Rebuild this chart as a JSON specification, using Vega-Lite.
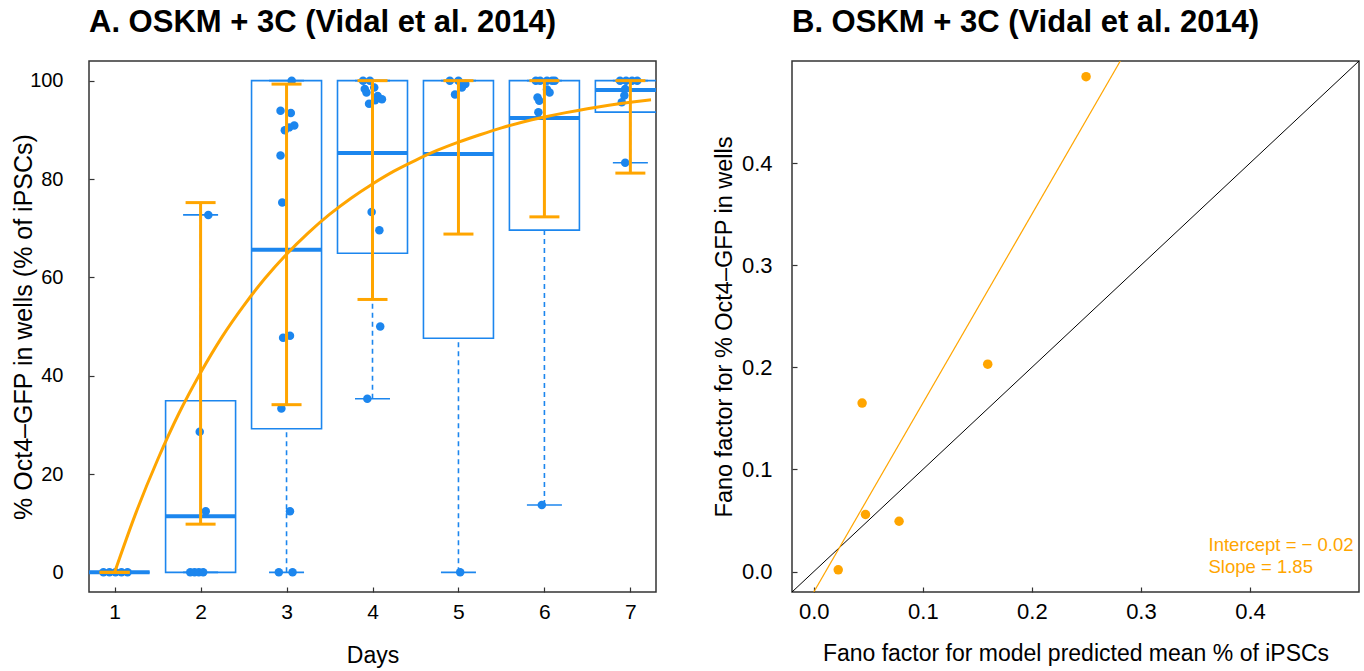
{
  "$schema": "https://vega.github.io/schema/vega-lite/v6.json",
  "padding": {"left": 10, "top": 6, "right": 0, "bottom": 0},
  "background": "white",
  "config": {
    "font": "Liberation Sans",
    "view": {"stroke": "#333333", "strokeWidth": 1.5},
    "axis": {"grid": false, "domain": false, "tickColor": "#333333", "tickSize": -5, "tickWidth": 1.2, "labelColor": "black", "titleColor": "black", "titleFontWeight": "normal", "labelFont": "Liberation Sans", "titleFont": "Liberation Sans"},
    "title": {"font": "Liberation Sans", "fontWeight": "bold", "fontSize": 31, "anchor": "start", "frame": "group", "color": "black"}
  },
  "datasets": {
    "boxes": [
      {"day": 1, "q1": 0, "med": 0, "q3": 0, "lo": 0, "hi": 0},
      {"day": 2, "q1": 0, "med": 11.4, "q3": 34.9, "lo": 0, "hi": 72.7},
      {"day": 3, "q1": 29.2, "med": 65.6, "q3": 100, "lo": 0, "hi": 100},
      {"day": 4, "q1": 64.9, "med": 85.3, "q3": 100, "lo": 35.3, "hi": 100},
      {"day": 5, "q1": 47.6, "med": 85.1, "q3": 100, "lo": 0, "hi": 100},
      {"day": 6, "q1": 69.6, "med": 92.4, "q3": 100, "lo": 13.7, "hi": 100},
      {"day": 7, "q1": 93.6, "med": 98.1, "q3": 100, "lo": 83.3, "hi": 100}
    ],
    "errs": [
      {"day": 1, "elo": 0, "ehi": 0},
      {"day": 2, "elo": 9.8, "ehi": 75.2},
      {"day": 3, "elo": 34.1, "ehi": 99.3},
      {"day": 4, "elo": 55.5, "ehi": 100},
      {"day": 5, "elo": 68.8, "ehi": 100},
      {"day": 6, "elo": 72.3, "ehi": 100},
      {"day": 7, "elo": 81.2, "ehi": 100}
    ],
    "wells": [
      {"xj": 0.87, "pct": 0}, {"xj": 0.94, "pct": 0}, {"xj": 1.01, "pct": 0}, {"xj": 1.08, "pct": 0}, {"xj": 1.15, "pct": 0},
      {"xj": 2.09, "pct": 72.7}, {"xj": 1.99, "pct": 28.6}, {"xj": 2.06, "pct": 12.4}, {"xj": 1.88, "pct": 0}, {"xj": 1.93, "pct": 0}, {"xj": 1.98, "pct": 0}, {"xj": 2.03, "pct": 0},
      {"xj": 3.06, "pct": 100}, {"xj": 2.93, "pct": 93.9}, {"xj": 3.05, "pct": 93.4}, {"xj": 3.09, "pct": 90.9}, {"xj": 3.03, "pct": 90.5}, {"xj": 2.98, "pct": 89.9}, {"xj": 2.93, "pct": 84.8}, {"xj": 2.95, "pct": 75.2}, {"xj": 3.04, "pct": 48.1}, {"xj": 2.96, "pct": 47.7}, {"xj": 2.94, "pct": 33.3}, {"xj": 3.04, "pct": 12.4}, {"xj": 2.91, "pct": 0}, {"xj": 3.07, "pct": 0},
      {"xj": 3.89, "pct": 100}, {"xj": 3.97, "pct": 100}, {"xj": 3.91, "pct": 98.3}, {"xj": 4.02, "pct": 98.6}, {"xj": 3.93, "pct": 97.6}, {"xj": 4.06, "pct": 96.9}, {"xj": 4.11, "pct": 96.2}, {"xj": 4.03, "pct": 96.0}, {"xj": 3.96, "pct": 95.3}, {"xj": 3.99, "pct": 73.3}, {"xj": 4.08, "pct": 69.6}, {"xj": 4.09, "pct": 50.0}, {"xj": 3.94, "pct": 35.3},
      {"xj": 4.90, "pct": 100}, {"xj": 5.00, "pct": 100}, {"xj": 5.08, "pct": 99.3}, {"xj": 5.04, "pct": 98.6}, {"xj": 4.96, "pct": 97.2}, {"xj": 5.02, "pct": 0},
      {"xj": 5.90, "pct": 100}, {"xj": 5.95, "pct": 100}, {"xj": 6.03, "pct": 100}, {"xj": 6.09, "pct": 100}, {"xj": 6.12, "pct": 100}, {"xj": 6.03, "pct": 98.2}, {"xj": 6.06, "pct": 97.6}, {"xj": 5.92, "pct": 96.6}, {"xj": 5.94, "pct": 95.9}, {"xj": 5.93, "pct": 93.6}, {"xj": 5.97, "pct": 13.7},
      {"xj": 6.88, "pct": 100}, {"xj": 6.95, "pct": 100}, {"xj": 7.02, "pct": 100}, {"xj": 7.08, "pct": 100}, {"xj": 6.94, "pct": 98.3}, {"xj": 6.93, "pct": 97.0}, {"xj": 6.90, "pct": 95.6}, {"xj": 6.94, "pct": 83.3}
    ],
    "fit": [
      {"t": 1.0, "v": 0}, {"t": 1.25, "v": 12.2}, {"t": 1.5, "v": 22.9}, {"t": 1.75, "v": 32.4}, {"t": 2.0, "v": 40.6}, {"t": 2.25, "v": 47.9}, {"t": 2.5, "v": 54.2}, {"t": 2.75, "v": 59.8}, {"t": 3.0, "v": 64.7}, {"t": 3.25, "v": 69.0}, {"t": 3.5, "v": 72.8}, {"t": 3.75, "v": 76.1}, {"t": 4.0, "v": 79.0}, {"t": 4.25, "v": 81.6}, {"t": 4.5, "v": 83.8}, {"t": 4.75, "v": 85.8}, {"t": 5.0, "v": 87.5}, {"t": 5.25, "v": 89.0}, {"t": 5.5, "v": 90.4}, {"t": 5.75, "v": 91.6}, {"t": 6.0, "v": 92.6}, {"t": 6.25, "v": 93.5}, {"t": 6.5, "v": 94.3}, {"t": 6.75, "v": 95.0}, {"t": 7.0, "v": 95.6}, {"t": 7.24, "v": 96.1}
    ],
    "fano": [
      {"model": 0.0224, "obs": 0.0017},
      {"model": 0.0443, "obs": 0.165},
      {"model": 0.0474, "obs": 0.0559},
      {"model": 0.0782, "obs": 0.0493},
      {"model": 0.1595, "obs": 0.2031},
      {"model": 0.2497, "obs": 0.4846}
    ],
    "lines": [
      {"kind": "identity", "xa": -0.02, "ya": -0.02, "xb": 0.5, "yb": 0.5},
      {"kind": "fit", "xa": 0.0, "ya": -0.02, "xb": 0.2811, "yb": 0.5}
    ],
    "notes": [
      {"label": "Intercept = − 0.02", "nx": 0.362, "ny": 0.026},
      {"label": "Slope = 1.85", "nx": 0.362, "ny": 0.004}
    ]
  },
  "hconcat": [
    {
      "title": {"text": "A. OSKM + 3C (Vidal et al. 2014)", "offset": 22},
      "width": 567,
      "height": 531,
      "layer": [
        {
          "data": {"name": "boxes"},
          "mark": {"type": "bar", "size": 70, "fillOpacity": 0, "fill": "white", "stroke": "#1C86EE", "strokeWidth": 1.6, "clip": true},
          "encoding": {
            "x": {"field": "day", "type": "quantitative", "scale": {"domain": [0.76, 7.24], "nice": false, "zero": false},
              "axis": {"values": [1, 2, 3, 4, 5, 6, 7], "format": "d", "title": "Days", "labelFontSize": 21, "titleFontSize": 23, "labelPadding": 14, "titlePadding": 22}},
            "y": {"field": "q1", "type": "quantitative", "scale": {"domain": [-4, 104], "nice": false, "zero": false},
              "axis": {"values": [0, 20, 40, 60, 80, 100], "format": "d", "title": "% Oct4–GFP in wells (% of iPSCs)", "labelFontSize": 20, "titleFontSize": 25, "labelPadding": 31, "titlePadding": -7}},
            "y2": {"field": "q3"}
          }
        },
        {
          "data": {"name": "boxes"},
          "mark": {"type": "rule", "stroke": "#1C86EE", "strokeWidth": 1.6, "strokeDash": [5, 4]},
          "encoding": {"x": {"field": "day", "type": "quantitative"}, "y": {"field": "lo", "type": "quantitative"}, "y2": {"field": "q1"}}
        },
        {
          "data": {"name": "boxes"},
          "mark": {"type": "rule", "stroke": "#1C86EE", "strokeWidth": 1.6, "strokeDash": [5, 4]},
          "encoding": {"x": {"field": "day", "type": "quantitative"}, "y": {"field": "q3", "type": "quantitative"}, "y2": {"field": "hi"}}
        },
        {
          "data": {"name": "boxes"},
          "mark": {"type": "tick", "orient": "horizontal", "size": 35, "thickness": 1.6, "color": "#1C86EE", "opacity": 1, "clip": true},
          "encoding": {"x": {"field": "day", "type": "quantitative"}, "y": {"field": "lo", "type": "quantitative"}}
        },
        {
          "data": {"name": "boxes"},
          "mark": {"type": "tick", "orient": "horizontal", "size": 35, "thickness": 1.6, "color": "#1C86EE", "opacity": 1, "clip": true},
          "encoding": {"x": {"field": "day", "type": "quantitative"}, "y": {"field": "hi", "type": "quantitative"}}
        },
        {
          "data": {"name": "boxes"},
          "mark": {"type": "tick", "orient": "horizontal", "size": 70, "thickness": 4, "color": "#1C86EE", "opacity": 1, "clip": true},
          "encoding": {"x": {"field": "day", "type": "quantitative"}, "y": {"field": "med", "type": "quantitative"}}
        },
        {
          "data": {"name": "wells"},
          "mark": {"type": "circle", "size": 72, "color": "#1C86EE", "opacity": 1},
          "encoding": {"x": {"field": "xj", "type": "quantitative"}, "y": {"field": "pct", "type": "quantitative"}}
        },
        {
          "data": {"name": "errs"},
          "mark": {"type": "rule", "stroke": "#FFA500", "strokeWidth": 3},
          "encoding": {"x": {"field": "day", "type": "quantitative"}, "y": {"field": "elo", "type": "quantitative"}, "y2": {"field": "ehi"}}
        },
        {
          "data": {"name": "errs"},
          "mark": {"type": "tick", "orient": "horizontal", "size": 30, "thickness": 3, "color": "#FFA500", "opacity": 1},
          "encoding": {"x": {"field": "day", "type": "quantitative"}, "y": {"field": "elo", "type": "quantitative"}}
        },
        {
          "data": {"name": "errs"},
          "mark": {"type": "tick", "orient": "horizontal", "size": 30, "thickness": 3, "color": "#FFA500", "opacity": 1},
          "encoding": {"x": {"field": "day", "type": "quantitative"}, "y": {"field": "ehi", "type": "quantitative"}}
        },
        {
          "data": {"name": "fit"},
          "mark": {"type": "line", "stroke": "#FFA500", "strokeWidth": 3, "interpolate": "monotone", "clip": true},
          "encoding": {"x": {"field": "t", "type": "quantitative"}, "y": {"field": "v", "type": "quantitative"}}
        }
      ]
    },
    {
      "title": {"text": "B. OSKM + 3C (Vidal et al. 2014)", "offset": 22},
      "width": 567,
      "height": 531,
      "layer": [
        {
          "data": {"name": "lines"},
          "transform": [{"filter": "datum.kind === 'identity'"}],
          "mark": {"type": "rule", "stroke": "black", "strokeWidth": 1, "clip": true},
          "encoding": {
            "x": {"field": "xa", "type": "quantitative", "scale": {"domain": [-0.02, 0.5], "nice": false, "zero": false},
              "axis": {"values": [0, 0.1, 0.2, 0.3, 0.4], "format": ".1f", "title": "Fano factor for model predicted mean % of iPSCs", "labelFontSize": 22, "titleFontSize": 23, "labelPadding": 14, "titlePadding": 20}},
            "y": {"field": "ya", "type": "quantitative", "scale": {"domain": [-0.02, 0.5], "nice": false, "zero": false},
              "axis": {"values": [0, 0.1, 0.2, 0.3, 0.4], "format": ".1f", "title": "Fano factor for % Oct4–GFP in wells", "labelFontSize": 22, "titleFontSize": 23.5, "labelPadding": 25, "titlePadding": 5}},
            "x2": {"field": "xb"},
            "y2": {"field": "yb"}
          }
        },
        {
          "data": {"name": "lines"},
          "transform": [{"filter": "datum.kind === 'fit'"}],
          "mark": {"type": "rule", "stroke": "#FFA500", "strokeWidth": 1.2, "clip": true},
          "encoding": {
            "x": {"field": "xa", "type": "quantitative"},
            "y": {"field": "ya", "type": "quantitative"},
            "x2": {"field": "xb"},
            "y2": {"field": "yb"}
          }
        },
        {
          "data": {"name": "fano"},
          "mark": {"type": "circle", "size": 90, "color": "#FFA500", "opacity": 1},
          "encoding": {"x": {"field": "model", "type": "quantitative"}, "y": {"field": "obs", "type": "quantitative"}}
        },
        {
          "data": {"name": "notes"},
          "mark": {"type": "text", "align": "left", "baseline": "middle", "fontSize": 18.5, "color": "#FFA500"},
          "encoding": {"x": {"field": "nx", "type": "quantitative"}, "y": {"field": "ny", "type": "quantitative"}, "text": {"field": "label"}}
        }
      ]
    }
  ],
  "spacing": 54
}
